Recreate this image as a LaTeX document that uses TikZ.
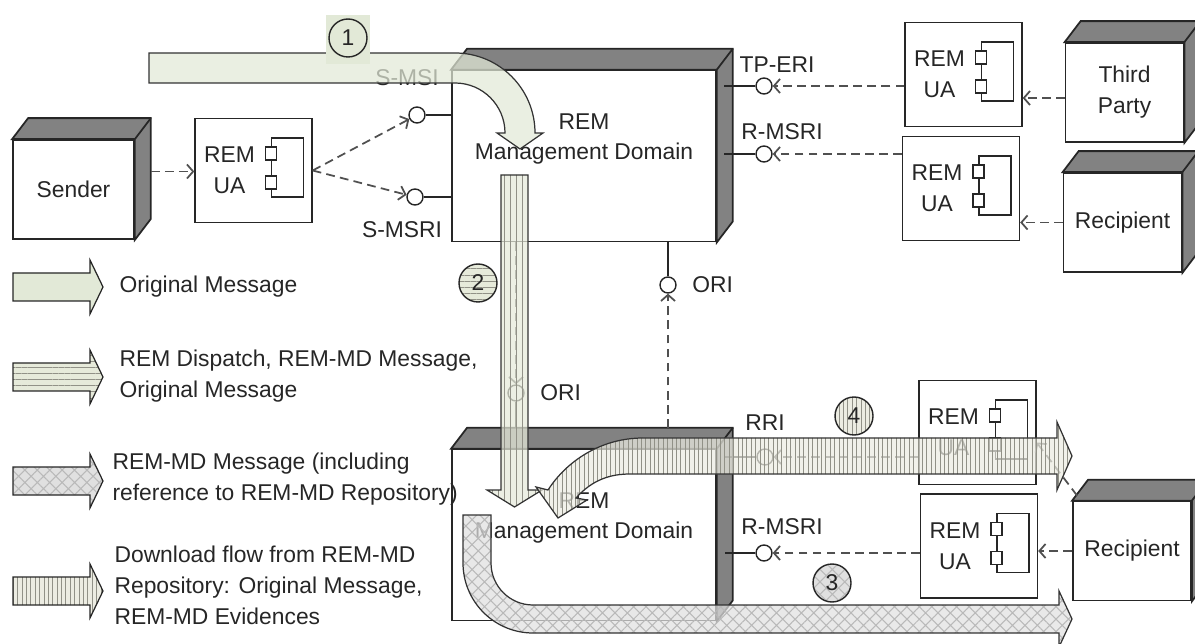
\documentclass[tikz,border=0pt]{standalone}
\usepackage{fontspec}
\setmainfont{Liberation Sans}
\usetikzlibrary{arrows.meta, calc, positioning}
\usetikzlibrary{patterns.meta}

\definecolor{boxShade}{RGB}{130,130,130}
\definecolor{lineGray}{RGB}{80,80,80}
\definecolor{msgGreen}{RGB}{226,233,215}
\definecolor{dispGreen}{RGB}{230,234,218}
\definecolor{dlBeige}{RGB}{236,236,226}
\definecolor{stripeGray}{RGB}{145,145,135}

\begin{document}
\begin{tikzpicture}[
    x=0.02cm, y=0.02cm,
    line width = 0.8pt,
    black!85,
    font=\fontsize{13}{17.6}\selectfont,
    device/.style={draw, fill=white, line width=1pt, minimum width=2.36cm, minimum height=1.98cm, inner sep=0pt, align=center},
    mdbox/.style={device, minimum width=5.28cm, minimum height=3.42cm},
    uabox/.style={draw, fill=white, minimum width=2.34cm, minimum height=2.08cm, inner sep=0pt},
    uatext/.style={align=center, inner sep=0pt},
    lolli/.style={circle, draw, fill=white, minimum size=0.32cm, inner sep=0pt},
    iface/.style={lineGray, line width=1pt, dash pattern=on 5pt off 3pt, -{Straight Barb[length=3.5pt, width=8pt]}},
    num/.style={circle, draw, minimum size=0.76cm, inner sep=0pt},
    flow/.style={draw=black!80, line width=0.7pt, fill opacity=0.72},
    msgfill/.style={fill=msgGreen},
    stripeH/.style={preaction={fill=dispGreen, fill opacity=#1}, pattern={Lines[angle=0, distance=3.5pt, line width=0.5pt]}, pattern color=stripeGray},
    stripeH/.default=1,
    stripeV/.style={preaction={fill=dispGreen, fill opacity=#1}, pattern={Lines[angle=90, distance=3.5pt, line width=0.5pt]}, pattern color=stripeGray},
    stripeV/.default=1,
    hatched/.style={preaction={fill=gray!24, fill opacity=#1}, pattern={Hatch[angle=45, distance=5pt, line width=0.6pt]}, pattern color=gray!55},
    hatched/.default=1,
    dlStripes/.style={preaction={fill=dlBeige, fill opacity=#1}, pattern={Lines[angle=90, distance=2.5pt, line width=0.45pt]}, pattern color=stripeGray},
    dlStripes/.default=1
    ]

    % Frame of the picture
    \path [use as bounding box] (0,0) rectangle (1195,-644);

    \def\dx{16}
    \def\dy{21}
    \def\op{0.72}

    % Devices at the edges
    \node (sender) [device, minimum width=2.42cm] at (73.5,-189.5) {Sender};
    \node (thirdparty) [device] at (1124.5,-92.5) {Third\\Party};
    \node (recipientA) [device] at (1122.5,-222.5) {Recipient};
    \node (recipientB) [device] at (1132,-551) {Recipient};

    % The two REM-MD domains
    \node (mdA) [mdbox] at (584,-156) {};
    \node (mdB) [mdbox] at (584,-535) {};
    \foreach \m in {mdA, mdB}{
        \node (\m-txt) [align=center] at ([yshift=0.34cm]\m.center) {REM\\Management Domain};
    }

    % Depth of every box
    \foreach \b in {sender, thirdparty, recipientA, recipientB, mdA, mdB}{
        \draw[fill=boxShade, line width=1pt] (\b.north west) -- ++(\dx,\dy) -- ($(\b.north east)+(\dx,\dy)$) -- ($(\b.south east)+(\dx,\dy)$) -- (\b.south east) -- (\b.north east) -- cycle;
        \draw[line width=1pt] (\b.north east) -- ++(\dx,\dy);
    }

    % User agents with their component mark
    \node (uaS) [uabox] at (253.5,-170.5) {};
    \node (uaT) [uabox] at (963.5,-74.5) {};
    \node (uaR) [uabox] at (961,-188.5) {};
    \node (uaB1) [uabox] at (977.5,-432.5) {};
    \node (uaB2) [uabox] at (979,-546) {};

    \foreach \u in {uaS, uaT, uaR, uaB1, uaB2}{
        \node (\u-txt) [uatext] at ([xshift=-0.48cm]\u.center) {REM\\UA};
        \draw[line width=0.6pt] ($(\u.center)+(18,32.5)$) rectangle ($(\u.center)+(50,-26.5)$);
        \foreach \s in {17,-12}{
            \draw[line width=0.6pt, fill=white] ($(\u.center)+(12,\s+6.5)$) rectangle ($(\u.center)+(23,\s-6.5)$);
        }
    }

    % Interfaces
    \node (sMSI) [lolli] at (417,-115) {};
    \node (sMSRI) [lolli] at (415,-197) {};
    \node (tpERI) [lolli] at (764,-86) {};
    \node (rMSRI) [lolli] at (764,-154) {};
    \node (oriA) [lolli] at (668,-285) {};
    \node (oriB) [lolli] at (516,-393) {};
    \node (rRI) [lolli] at (765,-457) {};
    \node (rMSRIb) [lolli] at (764,-553) {};

    \draw (sMSI.east) -- (sMSI -| mdA.west);
    \draw (sMSRI.east) -- (sMSRI -| mdA.west);
    \draw (tpERI.west) -- ($(tpERI -| mdA.east)+(7,0)$);
    \draw (rMSRI.west) -- ($(rMSRI -| mdA.east)+(7,0)$);
    \draw (oriA.north) -- (oriA |- mdA.south);
    \draw (oriB.south) -- ($(oriB |- mdB.north)+(0,\dy)$);
    \draw (rRI.west) -- ($(rRI -| mdB.east)+(8,0)$);
    \draw (rMSRIb.west) -- ($(rMSRIb -| mdB.east)+(8,0)$);

    \node (sMSI-lbl) at ($(sMSI)+(-10,37)$) {S-MSI};
    \node (sMSRI-lbl) at ($(sMSRI)+(-13,-33)$) {S-MSRI};
    \node (tpERI-lbl) at ($(tpERI)+(13,21)$) {TP-ERI};
    \node (rMSRI-lbl) at ($(rMSRI)+(18,22)$) {R-MSRI};
    \node (oriA-lbl) [right=0.18cm of oriA] {ORI};
    \node (oriB-lbl) [right=0.18cm of oriB] {ORI};
    \node (rRI-lbl) at ($(rRI)+(0,34)$) {RRI};
    \node (rMSRIb-lbl) at ($(rMSRIb)+(18,26)$) {R-MSRI};

    % Dashed links
    \coordinate (senderSide) at ($(sender.east)+(\dx,18)$);
    \coordinate (tpSide) at ([yshift=-0.11cm]thirdparty.west);
    \coordinate (oriFoot) at ($(oriA |- mdB.north)+(0,\dy)$);
    \coordinate (recBcorner) at ($(recipientB.north west)+(5,5)$);

    \draw[iface] (senderSide) -- (senderSide -| uaS.west);
    \draw[iface] (uaS.east) -- (sMSI);
    \draw[iface] (uaS.east) -- (sMSRI);
    \draw[iface] (uaT.west |- tpERI) -- (tpERI);
    \draw[iface] (uaR.west |- rMSRI) -- (rMSRI);
    \draw[iface] (tpSide) -- (tpSide -| uaT.east);
    \draw[iface] (recipientA.west) -- (recipientA.west -| uaR.east);
    \draw[iface] (oriFoot) -- (oriA);
    \draw[iface] (oriB |- mdA.south) -- (oriB);
    \draw[iface] (uaB1.west |- rRI) -- (rRI);
    \draw[iface] (uaB2.west |- rMSRIb) -- (rMSRIb);
    \draw[iface] (recipientB.west) -- (recipientB.west -| uaB2.east);
    \draw[iface] (recBcorner) -- ([yshift=-0.2cm]uaB1.east);

    % Message flows
    \draw[flow, msgfill] (149,-53) -- (455,-53) arc[start angle=90, end angle=0, radius=80] -- (543,-133) -- (520,-149) -- (497,-133) -- (505,-133) arc[start angle=0, end angle=90, radius=50] -- (149,-83) -- cycle;

    \draw[flow, stripeV=\op] (501,-175) -- (528,-175) -- (528,-490) -- (542,-490) -- (514.5,-507) -- (487,-490) -- (501,-490) -- cycle;

    \draw[flow, hatched=\op] (463,-515) -- (463,-563) arc[start angle=180, end angle=270, radius=70] -- (1059,-633) -- (1059,-647) -- (1072,-619) -- (1059,-591) -- (1059,-605) -- (533,-605) arc[start angle=270, end angle=180, radius=42] -- (491,-515) -- cycle;

    \draw[flow, dlStripes=\op] (1057,-438) -- (643,-438) .. controls (600,-438) and (566,-462) .. (548,-490) -- (536,-487) -- (558,-518) -- (587,-500) -- (576,-498) .. controls (592,-480) and (610,-474) .. (630,-474) -- (1057,-474) -- (1057,-490) -- (1072,-456) -- (1057,-422) -- cycle;

    % Step numbers
    \coordinate (c1) at (348,-38);
    \fill[msgGreen] ($(c1)+(-22,23)$) rectangle ($(c1)+(22,-26)$);
    \node (n1) [num, fill=msgGreen] at (c1) {1};
    \node (n2) [num, stripeH] at (478,-283) {2};
    \node (n3) [num, hatched] at (832,-583) {3};
    \node (n4) [num, dlStripes] at (854,-416) {4};

    % Legend
    \foreach \y/\sty in {-287/msgfill, -377/stripeH, -481/hatched, -591/dlStripes}{
        \draw[\sty, line width=0.7pt] (13,\y+14) -- (90,\y+14) -- (90,\y+27) -- (103,\y) -- (90,\y-27) -- (90,\y-14) -- (13,\y-14) -- cycle;
    }
    \node (legMsg) [anchor=west, align=left] at (113,-287) {Original Message};
    \node (legDispatch) [anchor=west, align=left] at (113,-376) {REM Dispatch, REM-MD Message,\\Original Message};
    \node (legMD) [anchor=west, align=left] at (106,-479) {REM-MD Message (including\\reference to REM-MD Repository)};
    \node (legDown) [anchor=west, align=left] at (108,-585) {Download flow from REM-MD\\Repository: Original Message,\\REM-MD Evidences};

\end{tikzpicture}
\end{document}
